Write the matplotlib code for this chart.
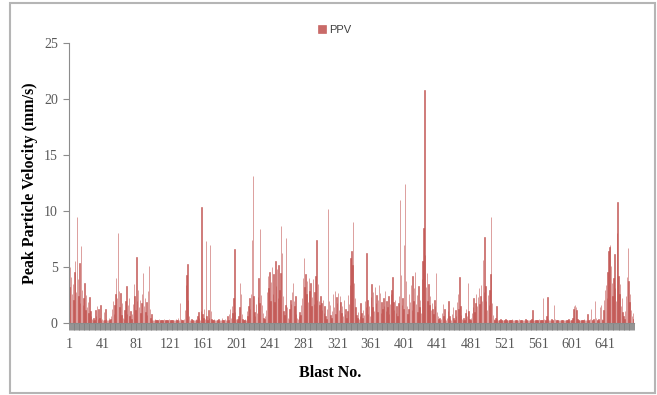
import matplotlib
matplotlib.use('Agg')
import matplotlib.pyplot as plt
from matplotlib.patches import Rectangle

# Peak particle velocity (mm/s) for each blast
ppv = [
    3.2, 5.0, 4.1, 2.6, 3.5, 2.1, 4.6, 5.5, 2.8, 9.5, 3.9, 2.4, 5.4, 1.8, 6.9, 3.0, 1.6, 2.2, 3.6, 1.2, 2.5, 1.4, 1.9, 0.9, 2.3,
    1.1, 0.6, 0.4, 0.3, 0.5, 0.3, 1.2, 0.6, 1.5, 0.4, 1.3, 0.5, 1.6, 0.3, 0.4, 0.3, 1.0, 0.3, 1.3, 0.4, 0.3, 0.3, 0.5, 0.3, 0.4,
    0.6, 1.3, 2.0, 0.8, 1.6, 2.6, 4.0, 2.2, 8.0, 2.9, 1.4, 2.7, 0.7, 1.8, 0.5, 0.4, 1.2, 2.0, 3.3, 0.8, 1.6, 2.2, 0.6, 1.1, 0.4,
    0.8, 1.7, 3.5, 2.4, 1.2, 5.9, 2.0, 3.0, 1.4, 2.1, 0.9, 1.8, 2.6, 4.5, 1.5, 2.2, 1.0, 1.9, 0.7, 2.9, 5.1, 1.3, 0.5, 0.8, 0.3,
    0.3, 0.3, 0.4, 0.3, 0.3, 0.3, 0.3, 0.4, 0.3, 0.3, 0.3, 0.3, 0.3, 0.4, 0.3, 0.3, 0.3, 0.3, 0.3, 0.4, 0.3, 0.3, 0.3, 0.3, 0.3,
    0.3, 0.3, 0.4, 0.3, 0.3, 0.5, 0.3, 1.8, 0.4, 0.3, 0.3, 0.3, 0.4, 1.2, 3.4, 4.3, 5.3, 2.1, 0.6, 0.3, 0.3, 0.4, 0.3, 0.3, 0.3,
    0.3, 0.4, 0.3, 0.6, 1.0, 0.5, 0.3, 1.1, 10.4, 0.8, 0.5, 1.3, 0.4, 7.3, 0.6, 0.3, 1.2, 0.5, 7.0, 1.1, 0.4, 0.3, 0.3, 0.4, 0.3,
    0.3, 0.3, 0.3, 0.4, 0.3, 0.3, 0.3, 0.5, 0.3, 0.3, 0.3, 0.4, 0.3, 0.3, 0.6, 0.3, 0.8, 1.3, 0.5, 1.5, 0.9, 2.2, 6.6, 1.0, 0.4,
    0.3, 0.4, 0.6, 1.4, 3.6, 2.6, 0.8, 0.4, 0.3, 0.3, 0.4, 0.3, 1.1, 0.6, 1.5, 2.2, 1.3, 2.6, 7.4, 13.1, 2.4, 1.0, 0.6, 1.7, 0.9,
    2.3, 4.0, 1.8, 8.4, 2.5, 1.6, 0.9, 0.5, 0.4, 0.6, 1.2, 2.8, 4.2, 3.1, 4.6, 2.0, 3.7, 5.0, 2.6, 4.4, 1.9, 5.5, 3.3, 4.8, 2.2,
    5.2, 3.0, 4.5, 8.7, 6.3, 2.4, 1.1, 0.7, 1.6, 7.6, 1.4, 0.5, 0.4, 1.3, 2.1, 1.7, 2.8, 3.6, 2.0, 1.5, 2.4, 0.8, 0.5, 0.4, 0.6,
    1.0, 0.7, 1.6, 2.2, 4.0, 5.8, 3.2, 4.4, 2.6, 3.8, 1.9, 4.0, 2.9, 3.6, 1.5, 2.3, 3.9, 1.7, 2.8, 4.2, 7.4, 2.1, 3.5, 2.0, 1.6,
    2.4, 1.8, 1.2, 2.1, 0.9, 1.5, 0.6, 0.4, 1.3, 10.2, 2.0, 1.6, 0.7, 0.5, 1.1, 2.6, 1.4, 2.9, 0.8, 2.3, 1.8, 2.7, 1.2, 2.4, 1.9,
    0.9, 1.5, 0.6, 2.1, 0.8, 1.3, 0.5, 1.1, 2.5, 1.7, 3.4, 5.8, 6.4, 5.2, 9.0, 3.6, 2.2, 1.4, 0.7, 0.5, 1.0, 0.4, 0.6, 1.8, 0.9,
    0.5, 1.2, 0.7, 2.0, 1.4, 6.3, 2.1, 0.8, 1.5, 0.6, 2.3, 3.5, 1.4, 2.8, 1.1, 3.2, 1.8, 2.5, 1.0, 2.1, 3.4, 2.7, 0.9, 1.9, 1.3,
    2.2, 1.5, 2.9, 1.1, 2.0, 1.4, 2.4, 0.8, 1.7, 2.6, 3.0, 4.1, 1.9, 1.2, 2.1, 0.9, 1.5, 0.6, 1.8, 2.4, 11.0, 4.3, 1.6, 2.2, 1.3,
    7.0, 12.4, 3.8, 1.5, 0.8, 1.3, 2.6, 1.9, 3.4, 1.2, 4.2, 2.0, 3.1, 4.6, 1.7, 2.5, 1.0, 3.3, 1.4, 2.1, 0.9, 3.9, 5.5, 8.5, 20.8,
    6.1, 3.2, 4.5, 2.0, 3.5, 1.6, 2.4, 1.2, 1.8, 1.3, 0.8, 2.1, 1.5, 4.5, 1.0, 0.6, 0.4, 0.5, 0.3, 0.4, 0.9, 1.7, 0.6, 1.3, 0.4,
    0.3, 0.5, 1.1, 2.0, 0.6, 0.4, 0.3, 0.8, 1.4, 0.5, 0.3, 1.2, 0.6, 1.9, 2.6, 1.3, 4.1, 1.5, 0.7, 0.4, 0.3, 0.5, 0.3, 0.9, 1.3,
    0.6, 3.6, 1.1, 0.4, 0.3, 0.5, 0.9, 1.4, 2.2, 1.0, 1.8, 2.6, 1.5, 2.3, 3.1, 1.7, 2.4, 3.4, 2.0, 5.6, 2.8, 7.7, 3.3, 2.0, 1.2,
    2.5, 1.6, 3.0, 4.4, 9.5, 1.8, 0.7, 0.4, 0.3, 0.5, 1.5, 0.4, 0.3, 0.3, 0.3, 0.4, 0.3, 0.3, 0.3, 0.3, 0.3, 0.4, 0.3, 0.3, 0.3,
    0.3, 0.3, 0.3, 0.3, 0.4, 0.3, 0.3, 0.3, 0.3, 0.3, 0.3, 0.3, 0.4, 0.3, 0.3, 0.3, 0.3, 0.3, 0.3, 0.3, 0.4, 0.3, 0.3, 0.3, 0.3,
    0.3, 0.3, 0.4, 1.2, 0.3, 0.3, 0.3, 0.3, 0.3, 0.3, 0.3, 0.4, 0.3, 0.3, 0.3, 0.3, 2.2, 0.4, 0.3, 0.3, 0.6, 2.3, 0.4, 0.3, 0.3,
    0.3, 0.4, 0.3, 0.3, 1.6, 0.4, 0.3, 0.3, 0.3, 0.3, 0.3, 0.3, 0.3, 0.3, 0.3, 0.3, 0.3, 0.3, 0.3, 0.3, 0.3, 0.4, 0.3, 0.3, 0.3,
    0.3, 0.5, 1.3, 1.5, 1.6, 1.4, 1.2, 0.4, 0.3, 0.3, 0.3, 0.3, 0.3, 0.3, 0.3, 0.4, 0.3, 0.3, 0.3, 0.8, 0.3, 0.3, 0.4, 1.3, 0.3,
    0.3, 0.4, 0.3, 2.0, 0.5, 0.3, 0.3, 0.4, 0.3, 1.4, 1.6, 0.4, 0.3, 1.2, 2.1, 3.0, 3.4, 2.2, 4.6, 6.4, 6.8, 7.0, 5.1, 3.6, 2.4,
    4.0, 6.2, 3.1, 2.0, 8.0, 10.8, 4.2, 2.6, 3.5, 1.5, 2.2, 1.0, 0.6, 0.4, 1.1, 2.4, 4.1, 6.7, 3.8, 1.9, 2.6, 1.2, 0.6, 0.9, 0.4,
]
blast_no = list(range(1, len(ppv) + 1))
y_ticks = [0, 5, 10, 15, 20, 25]
label_every = 40

serif = 'Liberation Serif'
bar_red = '#C0504D'

fig = plt.figure(figsize=(6.57, 3.95), dpi=100)
ax = fig.add_axes([0.105, 0.182, 0.86, 0.709])

# thin bars get an edge so none of them vanish at sub-pixel width
ax.bar(blast_no, ppv, width=0.5, color=bar_red, edgecolor=bar_red,
       linewidth=0.45, alpha=0.85, label='PPV')

# Axis ranges and ticks (a tick per blast, label every 40th)
ax.set_xlim(0.5, len(ppv) + 0.5)
ax.set_ylim(0, 25)
ax.set_yticks(y_ticks)
ax.set_xticks(blast_no)
ax.set_xticklabels([str(b) if (b - 1) % label_every == 0 else '' for b in blast_no])

ax.tick_params(axis='x', length=5, width=0.6, color='#808080', labelcolor='#595959',
               labelsize=10, pad=6)
ax.tick_params(axis='y', length=4, width=0.8, color='#8c8c8c', labelcolor='#595959',
               labelsize=10, pad=4)
for lbl in ax.get_xticklabels() + ax.get_yticklabels():
    lbl.set_family(serif)

for side in ['top', 'right']:
    ax.spines[side].set_visible(False)
for side in ['left', 'bottom']:
    ax.spines[side].set_color('#8c8c8c')
    ax.spines[side].set_linewidth(0.8)

# Axis labels
ax.set_ylabel('Peak Particle Velocity (mm/s)', family=serif, fontweight='bold', fontsize=11.5)
ax.yaxis.set_label_coords(-0.055, 0.5)
ax.set_xlabel('Blast No.', family=serif, fontweight='bold', fontsize=11.5)
ax.xaxis.set_label_coords(0.462, -0.15)

# Legend at the top
fig.legend(loc='center', bbox_to_anchor=(0.51, 0.924), frameon=False,
           handlelength=0.7, handleheight=0.7, handletextpad=0.3,
           prop={'family': 'Liberation Sans', 'size': 8}, labelcolor='#404040')

# Chart border
fig.patches.append(Rectangle((0.015, 0.005), 0.982, 0.988, transform=fig.transFigure,
                             fill=False, edgecolor='#b5b5b5', linewidth=1.5))

fig.savefig('out.png', dpi=100)
